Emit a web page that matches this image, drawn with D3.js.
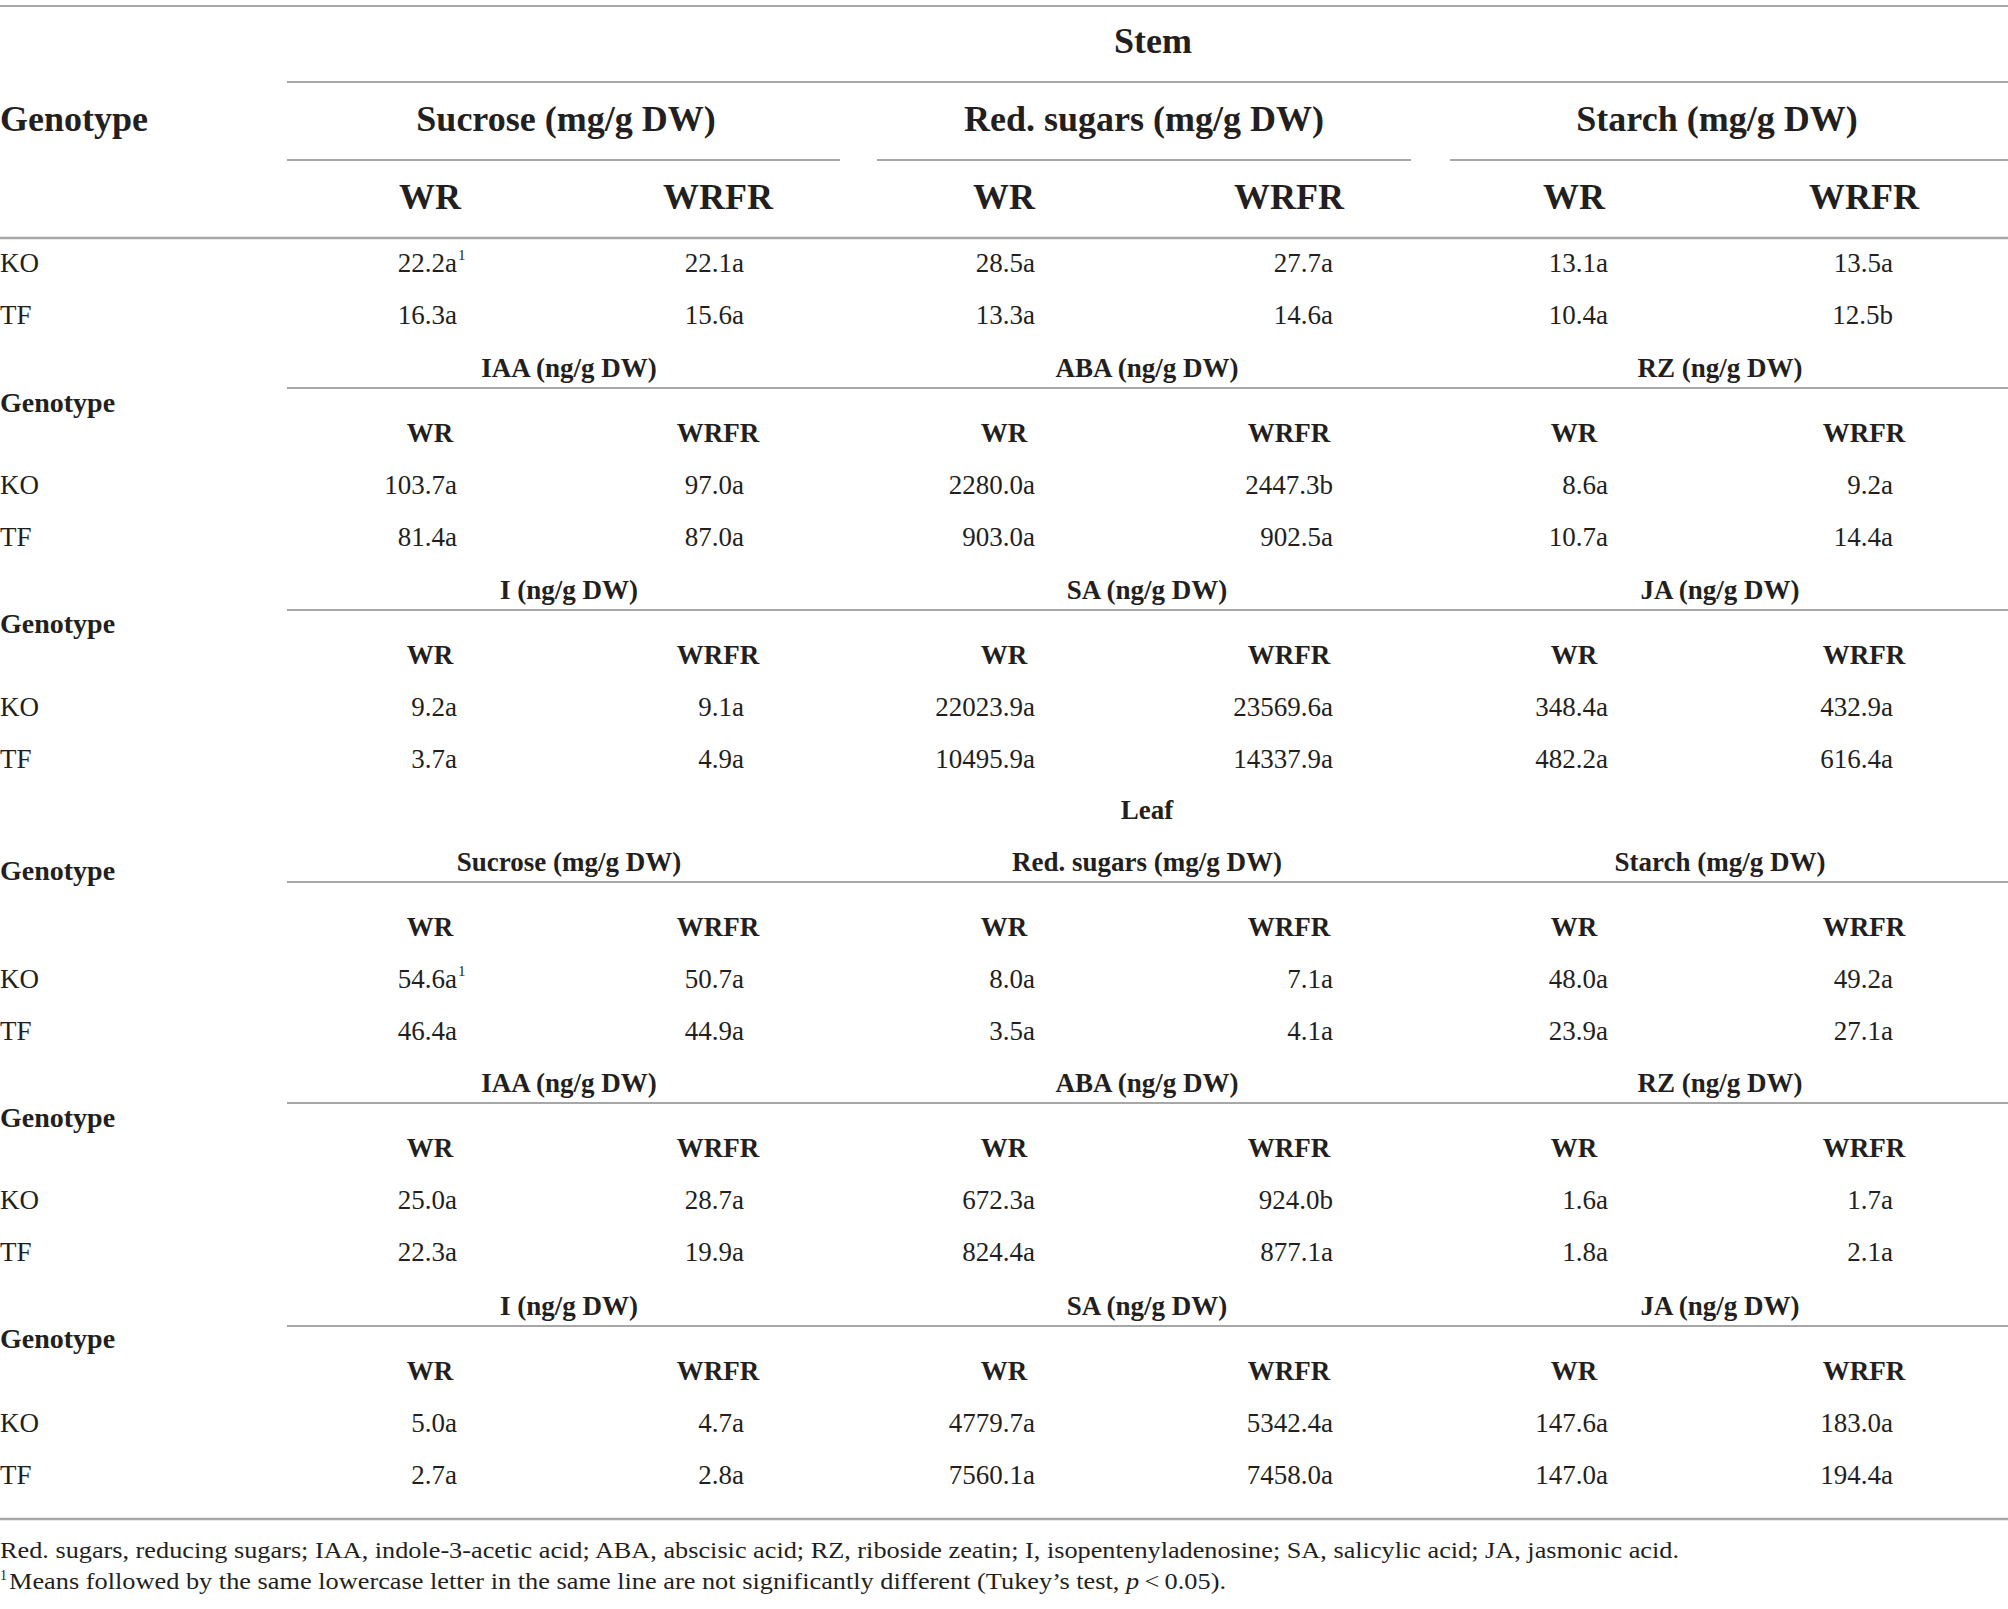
<!DOCTYPE html>
<html>
<head>
<meta charset="utf-8">
<script src="https://cdn.jsdelivr.net/npm/d3@7"></script>
<style>
  body { margin: 0; background: #fff; }
  text { font-family: "Liberation Serif", "DejaVu Serif", serif; fill: #231f20; }
</style>
</head>
<body>
<script>

var genotypes = ["KO", "TF"];
var treatments = ["WR", "WRFR"];
var organs = ["Stem", "Leaf"];
var variableSets = [
    ["Sucrose (mg/g DW)", "Red. sugars (mg/g DW)", "Starch (mg/g DW)"],
    ["IAA (ng/g DW)", "ABA (ng/g DW)", "RZ (ng/g DW)"],
    ["I (ng/g DW)", "SA (ng/g DW)", "JA (ng/g DW)"]
];

// [variable set][genotype][var1 WR, var1 WRFR, var2 WR, var2 WRFR, var3 WR, var3 WRFR]
var stemMeans = [
    [[22.2, 22.1, 28.5, 27.7, 13.1, 13.5], [16.3, 15.6, 13.3, 14.6, 10.4, 12.5]],
    [[103.7, 97.0, 2280.0, 2447.3, 8.6, 9.2], [81.4, 87.0, 903.0, 902.5, 10.7, 14.4]],
    [[9.2, 9.1, 22023.9, 23569.6, 348.4, 432.9], [3.7, 4.9, 10495.9, 14337.9, 482.2, 616.4]]
];
var stemLetters = [
    [["a", "a", "a", "a", "a", "a"], ["a", "a", "a", "a", "a", "b"]],
    [["a", "a", "a", "b", "a", "a"], ["a", "a", "a", "a", "a", "a"]],
    [["a", "a", "a", "a", "a", "a"], ["a", "a", "a", "a", "a", "a"]]
];
var leafMeans = [
    [[54.6, 50.7, 8.0, 7.1, 48.0, 49.2], [46.4, 44.9, 3.5, 4.1, 23.9, 27.1]],
    [[25.0, 28.7, 672.3, 924.0, 1.6, 1.7], [22.3, 19.9, 824.4, 877.1, 1.8, 2.1]],
    [[5.0, 4.7, 4779.7, 5342.4, 147.6, 183.0], [2.7, 2.8, 7560.1, 7458.0, 147.0, 194.4]]
];
var leafLetters = [
    [["a", "a", "a", "a", "a", "a"], ["a", "a", "a", "a", "a", "a"]],
    [["a", "a", "a", "b", "a", "a"], ["a", "a", "a", "a", "a", "a"]],
    [["a", "a", "a", "a", "a", "a"], ["a", "a", "a", "a", "a", "a"]]
];
// cells that carry the footnote mark: [organ, set, genotype, column]
var footnoteCells = [[0, 0, 0, 0], [1, 0, 0, 0]];
var footnoteLine1 = "Red. sugars, reducing sugars; IAA, indole-3-acetic acid; ABA, abscisic acid; RZ, riboside zeatin; I, isopentenyladenosine; SA, salicylic acid; JA, jasmonic acid.";
var footnoteLine2a = "Means followed by the same lowercase letter in the same line are not significantly different (Tukey\u2019s test, ";
var footnoteLine2b = "p";
var footnoteLine2c = "\u2009<\u20090.05).";

function main() {
    var width = 2008;
    var height = 1609;
    var lineColor = "#a7a7a7";
    var fmt = d3.format(".1f");

    var svg = d3.select("body").append("svg")
        .attr("width", width)
        .attr("height", height);

    // column positions (6 value columns: WR/WRFR for 3 variables)
    var xHead = d3.scaleOrdinal().domain(d3.range(6)).range([430, 718, 1004, 1289, 1574, 1864]);
    var xValue = d3.scaleOrdinal().domain(d3.range(6)).range([457, 744, 1035, 1333, 1608, 1893]);
    var xVar = d3.scaleOrdinal().domain(d3.range(3)).range([569, 1147, 1720]);

    // baseline from visual centre
    function txt(x, yc, s, size, opts) {
        opts = opts || {};
        return svg.append("text")
            .attr("x", x)
            .attr("y", yc + size * 0.34)
            .attr("font-size", size)
            .attr("font-weight", opts.bold ? "bold" : null)
            .attr("text-anchor", opts.anchor || "start")
            .text(s);
    }
    function hline(x1, x2, y, w) {
        svg.append("line")
            .attr("x1", x1).attr("x2", x2)
            .attr("y1", y).attr("y2", y)
            .attr("stroke", lineColor)
            .attr("stroke-width", w || 2.2);
    }

    function hasMark(o, s, g, c) {
        return footnoteCells.some(function (f) {
            return f[0] == o && f[1] == s && f[2] == g && f[3] == c;
        });
    }

    function valueRows(o, s, yKO) {
        var means = o == 0 ? stemMeans : leafMeans;
        var letters = o == 0 ? stemLetters : leafLetters;
        genotypes.forEach(function (gname, g) {
            var y = yKO + g * 52;
            txt(0, y, gname, 27);
            means[s][g].forEach(function (v, c) {
                txt(xValue(c), y, fmt(v) + letters[s][g][c], 27, { anchor: "end" });
                if (hasMark(o, s, g, c)) {
                    svg.append("text")
                        .attr("x", xValue(c) + 1)
                        .attr("y", y - 3)
                        .attr("font-size", 15)
                        .text("1");
                }
            });
        });
    }

    function treatmentRow(y, size) {
        d3.range(6).forEach(function (c) {
            txt(xHead(c), y, treatments[c % 2], size, { bold: true, anchor: "middle" });
        });
    }

    // ---- top header (Stem) ----
    hline(0, width, 6);
    txt(1153, 41, organs[0], 36, { bold: true, anchor: "middle" });
    hline(287, width, 82);
    txt(0, 119, "Genotype", 36, { bold: true });
    variableSets[0].forEach(function (v, i) {
        txt(xVar(i) - 3, 119, v, 36, { bold: true, anchor: "middle" });
    });
    var segs = [[287, 840], [877, 1411], [1450, width]];
    segs.forEach(function (s) { hline(s[0], s[1], 160); });
    treatmentRow(197, 36);
    hline(0, width, 238, 2.6);
    valueRows(0, 0, 263);

    // ---- sub blocks ----
    function subBlock(o, s, h, genoY) {
        variableSets[s].forEach(function (v, i) {
            txt(xVar(i), h, v, 27, { bold: true, anchor: "middle" });
        });
        hline(287, width, h + 20);
        txt(0, genoY, "Genotype", 28, { bold: true });
        treatmentRow(h + 65, 27);
        valueRows(o, s, h + 117);
    }

    subBlock(0, 1, 368, 402);
    subBlock(0, 2, 590, 623);

    // Leaf
    txt(1147, 810, organs[1], 27, { bold: true, anchor: "middle" });
    subBlock(1, 0, 862, 870);
    subBlock(1, 1, 1083, 1117);
    subBlock(1, 2, 1306, 1338);

    hline(0, width, 1519, 2.6);

    // ---- footnotes ----
    svg.append("text")
        .attr("x", 0).attr("y", 1558)
        .attr("font-size", 24)
        .attr("textLength", 1679)
        .attr("lengthAdjust", "spacingAndGlyphs")
        .text(footnoteLine1);

    svg.append("text")
        .attr("x", 0).attr("y", 1580)
        .attr("font-size", 14)
        .text("1");
    var f2 = svg.append("text")
        .attr("x", 9).attr("y", 1589)
        .attr("font-size", 24)
        .attr("textLength", 1217)
        .attr("lengthAdjust", "spacingAndGlyphs");
    f2.append("tspan").text(footnoteLine2a);
    f2.append("tspan").attr("font-style", "italic").text(footnoteLine2b);
    f2.append("tspan").text(footnoteLine2c);
}

main();
</script>
</body>
</html>
